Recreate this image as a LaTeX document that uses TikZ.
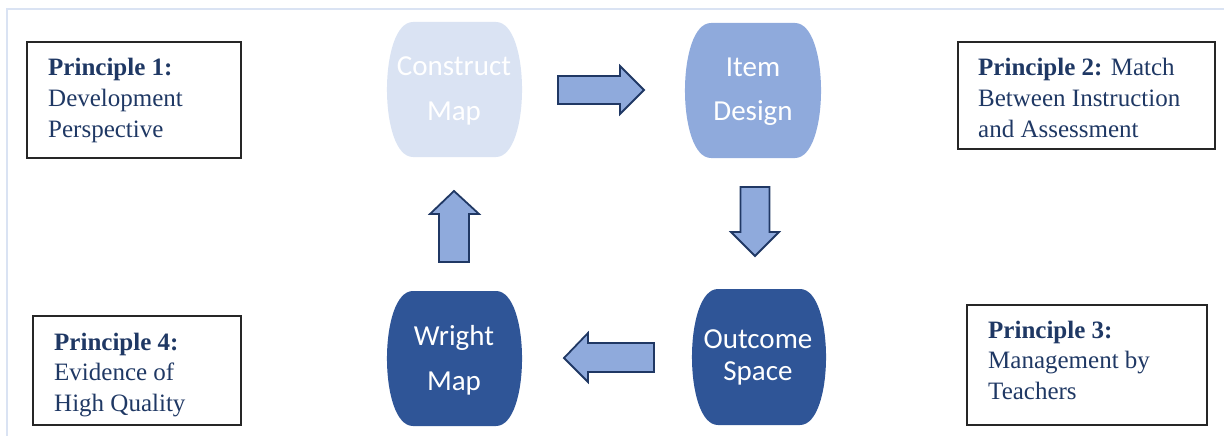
\documentclass[tikz,border=0pt]{standalone}
\usepackage{fontspec}
\setmainfont{Liberation Serif}
\newfontfamily\labfont{Carlito}
\definecolor{framec}{HTML}{DAE3F3}
\definecolor{lightfill}{HTML}{DAE3F3}
\definecolor{midfill}{HTML}{8FAADC}
\definecolor{darkfill}{HTML}{2F5597}
\definecolor{arrline}{HTML}{203864}
\definecolor{ptextc}{HTML}{1F3864}
\newcommand{\mybarrel}[5]{%
  \fill[#5] ({#1+26},#2) -- ({#3-26},#2)
    .. controls ({#3+8.7},#2) and ({#3+8.7},#4) .. ({#3-26},#4)
    -- ({#1+26},#4)
    .. controls ({#1-8.7},#4) and ({#1-8.7},#2) .. ({#1+26},#2) -- cycle;}
\tikzset{
  pbox/.style={draw=black!85, line width=1.4pt, fill=none, inner sep=0pt},
  ptext/.style={anchor=base west, inner sep=0pt, text=ptextc,
    font=\fontsize{25}{30}\selectfont},
  lab/.style={anchor=base, inner sep=0pt, text=white,
    font=\labfont\fontsize{29}{35}\selectfont},
  blockarrow/.style={fill=midfill, draw=arrline, line width=1.8pt, line join=miter},
}
\begin{document}
\begin{tikzpicture}[x=1pt,y=-1pt]
\useasboundingbox (0,0) rectangle (1224,436);
% frame
\draw[framec, line width=2pt] (7,436) -- (7,9) -- (1224,9);

% principle boxes
\node[pbox, minimum width=214pt, minimum height=116pt] (b1) at (134,100) {};
\node[pbox, minimum width=257pt, minimum height=107pt] (b2) at (1086.5,95.5) {};
\node[pbox, minimum width=240pt, minimum height=120pt] (b3) at (1087,365) {};
\node[pbox, minimum width=208pt, minimum height=109pt] (b4) at (137,370.5) {};

\node[ptext] (p1a) at (48,76) {\textbf{Principle 1:}};
\node[ptext] (p1b) at (48,106.5) {Development};
\node[ptext] (p1c) at (48,137) {Perspective};

\node[ptext] (p2a) at (978,76) {\textbf{Principle 2:} Match};
\node[ptext] (p2b) at (978,106.5) {Between Instruction};
\node[ptext] (p2c) at (978,137) {and Assessment};

\node[ptext] (p3a) at (988,338) {\textbf{Principle 3:}};
\node[ptext] (p3b) at (988,368.5) {Management by};
\node[ptext] (p3c) at (988,399) {Teachers};

\node[ptext] (p4a) at (54,350) {\textbf{Principle 4:}};
\node[ptext] (p4b) at (54,380.5) {Evidence of};
\node[ptext] (p4c) at (54,411) {High Quality};

% barrels
\mybarrel{387}{22}{522}{157}{lightfill}
\mybarrel{685}{23}{821}{158}{midfill}
\mybarrel{387}{291}{522}{426}{darkfill}
\mybarrel{692}{289}{826}{425}{darkfill}

\node[lab] (cm1) at (454,76) {Construct};
\node[lab] (cm2) at (454,120) {Map};
\node[lab] (id1) at (753,77) {Item};
\node[lab] (id2) at (753,120) {Design};
\node[lab] (wm1) at (454,345) {Wright};
\node[lab] (wm2) at (454,390) {Map};
\node[lab] (os1) at (758,348) {Outcome};
\node[lab] (os2) at (758,380) {Space};

% block arrows
\draw[blockarrow] (558,76) -- (620,76) -- (620,66) -- (644,90) -- (620,114) -- (620,104) -- (558,104) -- cycle;
\draw[blockarrow] (740.5,187) -- (769.5,187) -- (769.5,232) -- (779,232) -- (755,256) -- (731,232) -- (740.5,232) -- cycle;
\draw[blockarrow] (654,343) -- (588,343) -- (588,333) -- (564,358) -- (588,382) -- (588,372) -- (654,372) -- cycle;
\draw[blockarrow] (439,262) -- (469,262) -- (469,214) -- (479,214) -- (454,191) -- (430,214) -- (439,214) -- cycle;
\end{tikzpicture}
\end{document}
